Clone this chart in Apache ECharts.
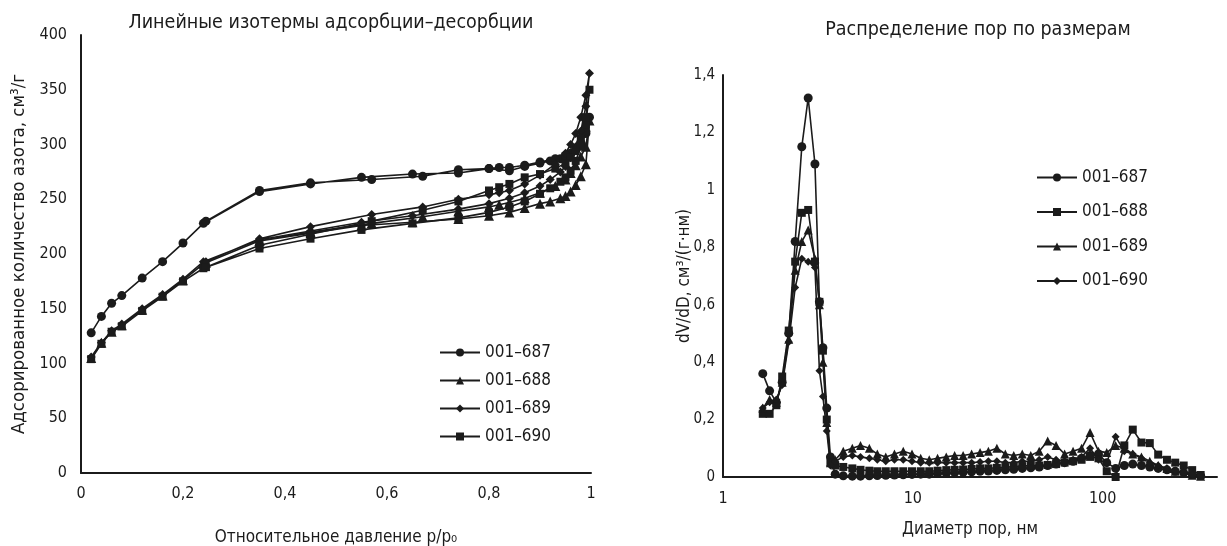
<!DOCTYPE html>
<html>
<head>
<meta charset="utf-8">
<script src="https://cdn.jsdelivr.net/npm/echarts@6/dist/echarts.min.js"></script>
<style>
  html, body { margin: 0; padding: 0; background: #fff; }
  #chart { width: 1227px; height: 546px; }
</style>
</head>
<body>
<div id="chart"></div>
<script>
// --- изотермы: относительное давление p/p0 ---
const pAds = [0.02, 0.04, 0.06, 0.08, 0.12, 0.16, 0.20, 0.24, 0.35, 0.45, 0.55, 0.65, 0.74, 0.80, 0.84, 0.87, 0.90, 0.92, 0.94, 0.95, 0.96, 0.97, 0.98, 0.99, 0.997];
const pDes = [0.99, 0.98, 0.97, 0.96, 0.95, 0.93, 0.90, 0.87, 0.84, 0.82, 0.80, 0.74, 0.67, 0.57, 0.45, 0.35, 0.245];

const ads687 = [128, 143, 155, 162, 178, 193, 210, 228, 257, 264, 270, 273, 274, 278, 276, 280, 283, 285, 287, 289, 291, 295, 300, 310, 325];
const des687 = [312, 302, 296, 292, 290, 287, 284, 281, 279, 279, 278, 277, 271, 268, 265, 258, 230];
const ads688 = [105, 119, 129, 135, 149, 162, 176, 191, 212, 219, 226, 229, 232, 235, 238, 242, 246, 248, 251, 253, 257, 263, 271, 282, 322];
const des688 = [298, 289, 281, 274, 268, 262, 256, 251, 247, 245, 243, 239, 234, 228, 220, 212, 192];
const ads689 = [106, 119, 130, 136, 150, 163, 177, 193, 213, 221, 229, 235, 241, 246, 251, 256, 262, 268, 275, 280, 288, 298, 312, 335, 365];
const des689 = [345, 325, 310, 300, 292, 282, 272, 264, 258, 256, 254, 250, 243, 236, 225, 214, 193];
const ads690 = [104, 118, 129, 134, 148, 161, 175, 187, 205, 214, 222, 228, 233, 238, 243, 248, 255, 260, 266, 270, 276, 285, 298, 318, 350];
const des690 = [325, 305, 294, 288, 283, 278, 273, 270, 264, 261, 258, 248, 240, 230, 218, 208, 188];

// --- распределение пор: диаметр, нм ---
const diam = [1.62, 1.76, 1.91, 2.05, 2.22, 2.40, 2.60, 2.81, 3.05, 3.22, 3.36, 3.52, 3.68,
  3.9, 4.3, 4.8, 5.3, 5.9, 6.5, 7.2, 8.0, 8.9, 9.9,
  11, 12.2, 13.5, 15, 16.6, 18.4, 20.4, 22.6, 25, 27.7,
  30.7, 34, 37.7, 41.8, 46.3, 51.3, 56.8, 63, 69.8, 77.4,
  85.8, 95, 105, 117, 130, 144, 160, 177, 196, 218,
  241, 267, 296, 328];

const psd687 = [0.36, 0.30, 0.26, 0.33, 0.50, 0.82, 1.15, 1.32, 1.09, 0.61, 0.45, 0.24, 0.07,
  0.01, 0.004, 0.003, 0.003, 0.004, 0.005, 0.006, 0.007, 0.008, 0.009,
  0.01, 0.01, 0.012, 0.013, 0.015, 0.016, 0.018, 0.02, 0.021, 0.023,
  0.025, 0.027, 0.03, 0.032, 0.035, 0.04, 0.045, 0.05, 0.055, 0.065,
  0.075, 0.08, 0.05, 0.03, 0.04, 0.045, 0.04, 0.035, 0.03, 0.025,
  0.02, 0.015, 0.01, 0.005];
const psd688 = [0.22, 0.22, 0.25, 0.35, 0.51, 0.75, 0.92, 0.93, 0.75, 0.61, 0.44, 0.20, 0.05,
  0.04, 0.035, 0.03, 0.025, 0.022, 0.02, 0.02, 0.02, 0.02, 0.02,
  0.02, 0.02, 0.022, 0.024, 0.025, 0.026, 0.028, 0.03, 0.03, 0.032,
  0.034, 0.036, 0.038, 0.04, 0.04, 0.042, 0.045, 0.05, 0.055, 0.06,
  0.07, 0.065, 0.02, 0.0, 0.11, 0.165, 0.12, 0.118, 0.078, 0.06,
  0.05, 0.04, 0.024, 0.007];
const psd689 = [0.24, 0.27, 0.26, 0.33, 0.48, 0.72, 0.82, 0.86, 0.76, 0.60, 0.40, 0.19, 0.05,
  0.06, 0.09, 0.10, 0.11, 0.10, 0.08, 0.07, 0.08, 0.09, 0.08,
  0.065, 0.06, 0.065, 0.07, 0.075, 0.075, 0.08, 0.085, 0.09, 0.10,
  0.08, 0.075, 0.08, 0.075, 0.09, 0.125, 0.11, 0.08, 0.09, 0.10,
  0.155, 0.09, 0.085, 0.11, 0.10, 0.08, 0.07, 0.055, 0.04, 0.03,
  0.02, 0.012, 0.006, 0.003];
const psd690 = [0.24, 0.26, 0.27, 0.32, 0.47, 0.66, 0.76, 0.75, 0.73, 0.37, 0.28, 0.16, 0.04,
  0.055, 0.07, 0.075, 0.07, 0.065, 0.06, 0.055, 0.06, 0.06, 0.055,
  0.05, 0.05, 0.05, 0.05, 0.05, 0.05, 0.05, 0.052, 0.055, 0.055,
  0.05, 0.05, 0.055, 0.055, 0.06, 0.07, 0.06, 0.055, 0.06, 0.07,
  0.10, 0.06, 0.05, 0.14, 0.09, 0.08, 0.065, 0.05, 0.04, 0.03,
  0.022, 0.015, 0.008, 0.004];

const FONT = '"Liberation Sans Narrow", "DejaVu Sans Condensed", sans-serif';
const INK = '#1b1b1b';

function loop(ads, des) {
  return pAds.map((p, i) => [p, ads[i]]).concat(pDes.map((p, i) => [p, des[i]]));
}
function psd(vals) {
  return diam.map((d, i) => [d, vals[i]]);
}
const comma = v => String(+(+v).toFixed(2)).replace('.', ',');

function isoSeries(name, symbol, size, ads, des) {
  return {
    name, type: 'line', xAxisIndex: 0, yAxisIndex: 0,
    symbol, symbolSize: size,
    lineStyle: { color: INK, width: 1.6 },
    itemStyle: { color: INK },
    data: loop(ads, des),
    animation: false,
  };
}
function psdSeries(name, symbol, size, vals) {
  return {
    name, type: 'line', xAxisIndex: 1, yAxisIndex: 1,
    symbol, symbolSize: size,
    lineStyle: { color: INK, width: 1.6 },
    itemStyle: { color: INK },
    data: psd(vals),
    animation: false,
  };
}

const axisLine = { show: true, lineStyle: { color: INK, width: 2 } };
const label = { color: INK, fontSize: 16, fontFamily: FONT };
const nameStyle = { color: INK, fontSize: 17, fontFamily: FONT };

const chart = echarts.init(document.getElementById('chart'));
chart.setOption({
  backgroundColor: '#fff',
  title: [
    { text: 'Линейные изотермы адсорбции–десорбции', left: 326, top: 8, textAlign: 'center',
      textStyle: { color: INK, fontSize: 19.5, fontWeight: 'normal', fontFamily: FONT } },
    { text: 'Распределение пор по размерам', left: 973, top: 15, textAlign: 'center',
      textStyle: { color: INK, fontSize: 19.5, fontWeight: 'normal', fontFamily: FONT } },
  ],
  legend: [
    { data: ['001–687', '001–688', '001–689', '001–690'], orient: 'vertical',
      left: 434, top: 339, itemWidth: 40, itemHeight: 10, itemGap: 11,
      textStyle: { color: INK, fontSize: 17, fontFamily: FONT } },
    { data: ['001–687 ', '001–688 ', '001–689 ', '001–690 '], orient: 'vertical',
      left: 1031, top: 164, itemWidth: 40, itemHeight: 10, itemGap: 17.5,
      textStyle: { color: INK, fontSize: 17, fontFamily: FONT } },
  ],
  grid: [
    { left: 81, top: 35, width: 510, height: 438, outerBoundsMode: 'none' },
    { left: 723, top: 75, width: 494, height: 402, outerBoundsMode: 'none' },
  ],
  xAxis: [
    { type: 'value', gridIndex: 0, min: 0, max: 1, interval: 0.2,
      axisLine, axisTick: { show: false }, splitLine: { show: false },
      axisLabel: { ...label, margin: 13, formatter: comma },
      name: 'Относительное давление p/p₀', nameLocation: 'middle', nameGap: 56, nameMoveOverlap: false,
      nameTextStyle: nameStyle },
    { type: 'log', gridIndex: 1, min: 1, max: 400, logBase: 10,
      axisLine, axisTick: { show: false }, splitLine: { show: false }, minorSplitLine: { show: false },
      axisLabel: { ...label, margin: 14, showMaxLabel: false,
        formatter: v => ([1, 10, 100].includes(Math.round(v)) ? String(Math.round(v)) : '') },
      name: 'Диаметр пор, нм', nameLocation: 'middle', nameGap: 44, nameMoveOverlap: false,
      nameTextStyle: nameStyle },
  ],
  yAxis: [
    { type: 'value', gridIndex: 0, min: 0, max: 400, interval: 50,
      axisLine, axisTick: { show: false }, splitLine: { show: false },
      axisLabel: { ...label, margin: 14 },
      name: 'Адсорированное количество азота, см³/г', nameLocation: 'middle', nameGap: 52, nameMoveOverlap: false,
      nameTextStyle: { ...nameStyle, fontSize: 18.5 } },
    { type: 'value', gridIndex: 1, min: 0, max: 1.4, interval: 0.2,
      axisLine, axisTick: { show: false }, splitLine: { show: false },
      axisLabel: { ...label, fontSize: 15, margin: 8, formatter: comma },
      name: 'dV/dD, см³/(г·нм)', nameLocation: 'middle', nameGap: 30, nameMoveOverlap: false,
      nameTextStyle: { ...nameStyle, fontSize: 17 } },
  ],
  series: [
    isoSeries('001–687', 'circle', 9, ads687, des687),
    isoSeries('001–688', 'triangle', 10, ads688, des688),
    isoSeries('001–689', 'diamond', 9, ads689, des689),
    isoSeries('001–690', 'rect', 8, ads690, des690),
    psdSeries('001–687 ', 'circle', 9, psd687),
    psdSeries('001–688 ', 'rect', 8, psd688),
    psdSeries('001–689 ', 'triangle', 9, psd689),
    psdSeries('001–690 ', 'diamond', 8, psd690),
  ],
});
</script>
</body>
</html>
